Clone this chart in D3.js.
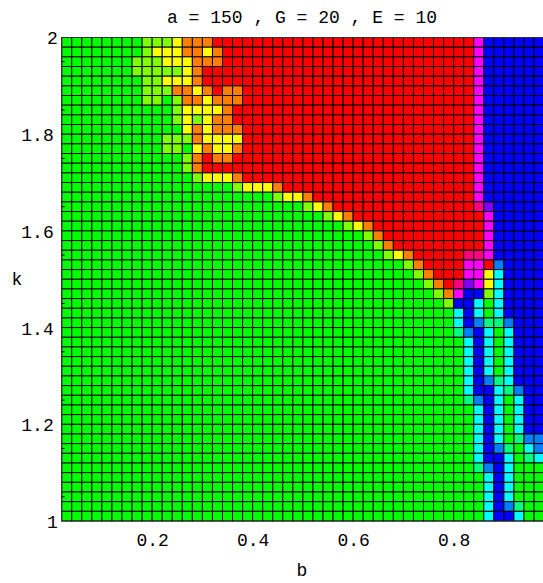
<!DOCTYPE html>
<html>
<head>
<meta charset="utf-8">
<script src="https://cdn.jsdelivr.net/npm/d3@7"></script>
<style>
  body { margin: 0; background: #fff; }
  text { font-family: "Liberation Mono", "DejaVu Sans Mono", monospace; fill: #000; }
</style>
</head>
<body>
<div id="chart"></div>
<script>
// lower edge of each column (b) and each row (k)
var bEdges = [0.02, 0.04, 0.06, 0.08, 0.10, 0.12, 0.14, 0.16, 0.18, 0.20, 0.22, 0.24,
              0.26, 0.28, 0.30, 0.32, 0.34, 0.36, 0.38, 0.40, 0.42, 0.44, 0.46, 0.48,
              0.50, 0.52, 0.54, 0.56, 0.58, 0.60, 0.62, 0.64, 0.66, 0.68, 0.70, 0.72,
              0.74, 0.76, 0.78, 0.80, 0.82, 0.84, 0.86, 0.88, 0.90, 0.92, 0.94, 0.96];
var kEdges = [1.98, 1.96, 1.94, 1.92, 1.90, 1.88, 1.86, 1.84, 1.82, 1.80,
              1.78, 1.76, 1.74, 1.72, 1.70, 1.68, 1.66, 1.64, 1.62, 1.60,
              1.58, 1.56, 1.54, 1.52, 1.50, 1.48, 1.46, 1.44, 1.42, 1.40,
              1.38, 1.36, 1.34, 1.32, 1.30, 1.28, 1.26, 1.24, 1.22, 1.20,
              1.18, 1.16, 1.14, 1.12, 1.10, 1.08, 1.06, 1.04, 1.02, 1.00];

// one string per row (top = k 1.98), one letter per column
var cellRows = [
  "GGGGGGGG LLL Y OOO RRRRRRRRRR RRRRRRRRRR RRRRRR M BBBBBB",
  "GGGGGGGG L YYY OO Y O RRRRRRRRRR RRRRRRRRRR RRRRR M BBBBBB",
  "GGGGGGG LLL YYY OOO RRRRRRRRRR RRRRRRRRRR RRRRR M BBBBBB",
  "GGGGGGG LLLLL Y O RRRRRRRRRR RRRRRRRRRR RRRRRRR M BBBBBB",
  "GGGGGGGG LL YYY O RRRRRRRRRR RRRRRRRRRR RRRRRRR M BBBBBB",
  "GGGGGGGG LLL OO Y O R OO RRRRRRRRRR RRRRRRRRRR RRR M BBBBBB",
  "GGGGGGGG LL G L OO Y OOO RRRRRRRRRR RRRRRRRRRR RRR M BBBBBB",
  "GGGGGGGGGG G L YYYY O RRRRRRRRRR RRRRRRRRRR RRRR M BBBBBB",
  "GGGGGGGGGG G L Y L Y OO RRRRRRRRRR RRRRRRRRRR RRRR M BBBBBB",
  "GGGGGGGGGG GG Y O Y OOO RRRRRRRRRR RRRRRRRRRR RRR M BBBBBB",
  "GGGGGGGGGG LLL O YYYY RRRRRRRRRR RRRRRRRRRR RRR M BBBBBB",
  "GGGGGGGGGG LL G Y O YY O RRRRRRRRRR RRRRRRRRRR RRR M BBBBBB",
  "GGGGGGGGGG GG L O R OO RRRRRRRRRR RRRRRRRRRR RRRR M BBBBBB",
  "GGGGGGGGGG GG L O RRRRRRRRRR RRRRRRRRRR RRRRRRR M BBBBBB",
  "GGGGGGGGGG GGG L YYY O RRRRRRRRRR RRRRRRRRRR RRR M BBBBBB",
  "GGGGGGGGGG GGGGGGG L YYY O RRRRRRRRRR RRRRRRRRR M BBBBBB",
  "GGGGGGGGGG GGGGGGGGGG G L YY O RRRRRRRRRR RRRRRR M BBBBBB",
  "GGGGGGGGGG GGGGGGGGGG GGGG L Y O RRRRRRRRRR RRRR P V BBBBB",
  "GGGGGGGGGG GGGGGGGGGG GGGGGG L Y O RRRRRRRRRR RRR M BBBBB",
  "GGGGGGGGGG GGGGGGGGGG GGGGGGGG L Y O RRRRRRRRRR R M BBBBB",
  "GGGGGGGGGG GGGGGGGGGG GGGGGGGGGG L O RRRRRRRRRR M BBBBB",
  "GGGGGGGGGG GGGGGGGGGG GGGGGGGGGG G L O RRRRRRRRR M BBBBB",
  "GGGGGGGGGG GGGGGGGGGG GGGGGGGGGG GG L Y O RRRRR PP M BBBBB",
  "GGGGGGGGGG GGGGGGGGGG GGGGGGGGGG GGGG L O RRRR MM R A BBBB",
  "GGGGGGGGGG GGGGGGGGGG GGGGGGGGGG GGGGG L O RRR MM Y C BBBB",
  "GGGGGGGGGG GGGGGGGGGG GGGGGGGGGG GGGGGG L O R P V M Y C BBBB",
  "GGGGGGGGGG GGGGGGGGGG GGGGGGGGGG GGGGGGG L O M BB L C BBBB",
  "GGGGGGGGGG GGGGGGGGGG GGGGGGGGGG GGGGGGGG L BB C G C BBBB",
  "GGGGGGGGGG GGGGGGGGGG GGGGGGGGGG GGGGGGGGG C B C G C BBBB",
  "GGGGGGGGGG GGGGGGGGGG GGGGGGGGGG GGGGGGGGG C B A S S A BBB",
  "GGGGGGGGGG GGGGGGGGGG GGGGGGGGGG GGGGGGGGG S A B C G C BBB",
  "GGGGGGGGGG GGGGGGGGGG GGGGGGGGGG GGGGGGGGGG C B C G C BBB",
  "GGGGGGGGGG GGGGGGGGGG GGGGGGGGGG GGGGGGGGGG C B C G C BBB",
  "GGGGGGGGGG GGGGGGGGGG GGGGGGGGGG GGGGGGGGGG C B C G C BBB",
  "GGGGGGGGGG GGGGGGGGGG GGGGGGGGGG GGGGGGGGGG C B C G C BBB",
  "GGGGGGGGGG GGGGGGGGGG GGGGGGGGGG GGGGGGGGGG C B A S C BBB",
  "GGGGGGGGGG GGGGGGGGGG GGGGGGGGGG GGGGGGGGGG C B B C S A B B",
  "GGGGGGGGGG GGGGGGGGGG GGGGGGGGGG GGGGGGGGGG S A B C G C B B",
  "GGGGGGGGGG GGGGGGGGGG GGGGGGGGGG GGGGGGGGGG G C B C G C B B",
  "GGGGGGGGGG GGGGGGGGGG GGGGGGGGGG GGGGGGGGGG G C B C G C B B",
  "GGGGGGGGGG GGGGGGGGGG GGGGGGGGGG GGGGGGGGGG G C B C G C B B",
  "GGGGGGGGGG GGGGGGGGGG GGGGGGGGGG GGGGGGGGGG G C B C G S A A",
  "GGGGGGGGGG GGGGGGGGGG GGGGGGGGGG GGGGGGGGGG G C B A S G C A",
  "GGGGGGGGGG GGGGGGGGGG GGGGGGGGGG GGGGGGGGGG G C B B C G S C",
  "GGGGGGGGGG GGGGGGGGGG GGGGGGGGGG GGGGGGGGGG G S A B C G G G",
  "GGGGGGGGGG GGGGGGGGGG GGGGGGGGGG GGGGGGGGGG GG C B C G G G",
  "GGGGGGGGGG GGGGGGGGGG GGGGGGGGGG GGGGGGGGGG GG C B C G G G",
  "GGGGGGGGGG GGGGGGGGGG GGGGGGGGGG GGGGGGGGGG GG C B C G G G",
  "GGGGGGGGGG GGGGGGGGGG GGGGGGGGGG GGGGGGGGGG GG C B A S G G",
  "GGGGGGGGGG GGGGGGGGGG GGGGGGGGGG GGGGGGGGGG GG C B B C G G"
];

var hueColors = {
  R: "#ff0000", O: "#ff8000", Y: "#ffff00", L: "#80ff00", G: "#00ff00", S: "#00ff80",
  C: "#00ffff", A: "#0080ff", B: "#0000ff", V: "#8000ff", M: "#ff00ff", P: "#ff0080"
};

var xTicks = [0.2, 0.4, 0.6, 0.8];
var yTicks = [1, 1.2, 1.4, 1.6, 1.8, 2];
var yTickLabels = ["1", "1.2", "1.4", "1.6", "1.8", "2"];
var titleText = "a = 150 , G = 20 , E = 10";
var cellStep = 0.02;

var width = 543, height = 583;

var svg = d3.select('#chart').append('svg')
    .attr('width', width)
    .attr('height', height);

var x = d3.scaleLinear()
    .domain([0.02, 0.98])
    .range([61.7, 544.1]);
var y = d3.scaleLinear()
    .domain([1, 2])
    .range([521, 37.5]);

var cells = [];
cellRows.forEach(function(row, ri) {
    row.replace(/ /g, '').split('').forEach(function(ch, ci) {
        cells.push({ b: bEdges[ci], k: kEdges[ri], c: ch });
    });
});

svg.append('g')
  .selectAll('rect')
    .data(cells)
    .enter()
    .append('rect')
    .attr('x', function(d) { return x(d.b); })
    .attr('y', function(d) { return y(d.k + cellStep); })
    .attr('width', function(d) { return x(d.b + cellStep) - x(d.b); })
    .attr('height', function(d) { return y(d.k) - y(d.k + cellStep); })
    .attr('fill', function(d) { return hueColors[d.c]; })
    .attr('stroke', '#000')
    .attr('stroke-width', 1);

// frame
svg.append('rect')
    .attr('x', x(0.02))
    .attr('y', y(2))
    .attr('width', x(0.98) - x(0.02))
    .attr('height', y(1) - y(2))
    .attr('fill', 'none')
    .attr('stroke', '#333')
    .attr('stroke-width', 1);

// x axis
var xAxis = svg.append('g')
    .attr('transform', 'translate(0,' + y(1) + ')')
    .call(d3.axisBottom(x).tickValues(xTicks).tickSize(0).tickPadding(0).tickFormat(d3.format('.1f')));
xAxis.select('.domain').remove();
xAxis.selectAll('text')
    .attr('y', 25)
    .attr('dy', 0)
    .style('font-size', '18px')
    .style('font-family', '"Liberation Mono", monospace');

// y axis
var yAxis = svg.append('g')
    .attr('transform', 'translate(' + x(0.02) + ',0)')
    .call(d3.axisLeft(y).tickValues(yTicks).tickSize(0).tickPadding(0)
        .tickFormat(function(d, i) { return yTickLabels[i]; }));
yAxis.select('.domain').remove();
yAxis.selectAll('text')
    .attr('x', function(d, i) { return yTickLabels[i].length > 1 ? -8 : -4; })
    .attr('dy', '0.36em')
    .style('font-size', '18px')
    .style('font-family', '"Liberation Mono", monospace');

// small inward ticks on the left edge
var minorTicks = d3.range(1.05, 2, 0.1);
svg.append('g')
  .selectAll('line')
    .data(minorTicks)
    .enter()
    .append('line')
    .attr('x1', x(0.02))
    .attr('x2', x(0.02) + 3)
    .attr('y1', function(d) { return y(d); })
    .attr('y2', function(d) { return y(d); })
    .attr('stroke', '#000')
    .attr('stroke-width', 1);

svg.append('text')
    .attr('x', 302)
    .attr('y', 23)
    .attr('text-anchor', 'middle')
    .style('font-size', '18px')
    .text(titleText);

svg.append('text')
    .attr('x', 302)
    .attr('y', 576)
    .attr('text-anchor', 'middle')
    .style('font-size', '18px')
    .text('b');

svg.append('text')
    .attr('x', 17)
    .attr('y', 285)
    .attr('text-anchor', 'middle')
    .style('font-size', '18px')
    .text('k');
</script>
</body>
</html>
